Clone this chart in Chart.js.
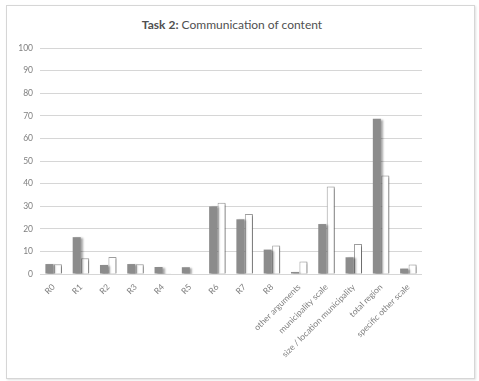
<!DOCTYPE html>
<html>
<head>
<meta charset="utf-8">
<script src="https://cdn.jsdelivr.net/npm/chart.js@4"></script>
<style>
    body { margin: 0; background: #fff; font-family: Lato, "Open Sans", sans-serif; }
    #frame {
        position: absolute; left: 6px; top: 5px; width: 467px; height: 372px;
        border: 1px solid #d6d6d6; box-shadow: 1px 1px 2px rgba(0,0,0,0.12);
    }
    #title {
        position: absolute; left: 0; width: 464px; top: 17px; text-align: center;
        font-size: 12px; color: #505050;
    }
    #chartBox { position: absolute; left: 5px; top: 5px; width: 470px; height: 373px; }
</style>
</head>
<body>
<div id="frame"></div>
<div id="title"><b>Task 2:</b> Communication of content</div>
<div id="chartBox"><canvas id="taskChart"></canvas></div>
<script>
// categories and values (percent)
const categories = ['R0', 'R1', 'R2', 'R3', 'R4', 'R5', 'R6', 'R7', 'R8',
    'other arguments', 'municipality scale', 'size / location municipality',
    'total region', 'specific other scale'];
const seriesGrey = [4.4, 16.3, 4.0, 4.4, 3.1, 3.0, 29.9, 24.2, 10.8, 0.9, 22.1, 7.4, 68.7, 2.4];
const seriesWhite = [4.3, 7.0, 7.5, 4.3, 0.3, 0.2, 31.5, 26.6, 12.6, 5.5, 38.7, 13.3, 43.6, 4.2];
const yTicks = [0, 10, 20, 30, 40, 50, 60, 70, 80, 90, 100];

// soft drop shadow behind the bars, like the original
const barShadow = {
    id: 'barShadow',
    beforeDatasetsDraw(chart) {
        const ctx = chart.ctx;
        ctx.save();
        ctx.shadowColor = 'rgba(0,0,0,0.35)';
        ctx.shadowBlur = 2;
        ctx.shadowOffsetX = 2;
        ctx.shadowOffsetY = 1;
    },
    afterDatasetsDraw(chart) {
        chart.ctx.restore();
    }
};

const ctx = document.getElementById('taskChart').getContext('2d');
new Chart(ctx, {
    type: 'bar',
    data: {
        labels: categories,
        datasets: [{
            data: seriesGrey,
            backgroundColor: '#8c8c8c',
            borderWidth: 0,
            barPercentage: 0.95,
            categoryPercentage: 0.62
        }, {
            data: seriesWhite,
            backgroundColor: '#ffffff',
            borderColor: '#a0a0a0',
            borderWidth: 1,
            barPercentage: 0.95,
            categoryPercentage: 0.62
        }]
    },
    options: {
        responsive: true,
        maintainAspectRatio: false,
        animation: false,
        layout: { padding: { top: 43, right: 53, bottom: 4, left: 0 } },
        plugins: {
            legend: { display: false },
            tooltip: { enabled: false }
        },
        scales: {
            y: {
                min: 0,
                max: 100,
                border: { display: false },
                ticks: {
                    stepSize: 5,
                    padding: 7,
                    color: '#808080',
                    font: { family: 'Lato', size: 8.5 },
                    callback: function(value) {
                        return yTicks.includes(value) ? value : '';
                    }
                },
                grid: {
                    drawTicks: false,
                    color: function(c) {
                        return c.tick.value % 10 === 0 ? '#d6d6d6' : '#eeeeee';
                    }
                },
                afterFit: function(scale) { scale.width = 35; }
            },
            x: {
                border: { display: false },
                grid: { display: false },
                ticks: {
                    minRotation: 45,
                    maxRotation: 45,
                    padding: 0,
                    color: '#808080',
                    font: { family: 'Lato', size: 8.5 }
                },
                afterFit: function(scale) { scale.height = 100; }
            }
        }
    },
    plugins: [barShadow]
});
</script>
</body>
</html>
